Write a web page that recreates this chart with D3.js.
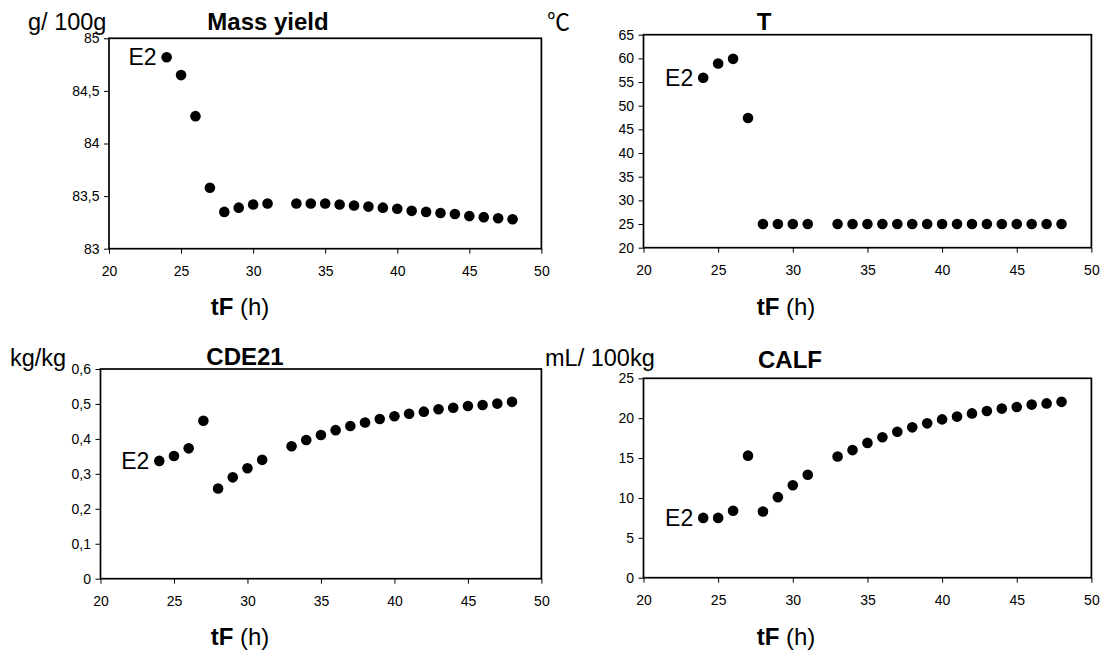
<!DOCTYPE html>
<html>
<head>
<meta charset="utf-8">
<script src="https://cdn.jsdelivr.net/npm/d3@7"></script>
<style>
  body { margin: 0; background: #fff; }
  svg text { font-family: "Liberation Sans", Arial, sans-serif; fill: #000; }
</style>
</head>
<body>
<div id="chart"></div>
<script>
// 發酵時間 tF (h)，32 h 沒有資料
const tF = [24, 25, 26, 27, 28, 29, 30, 31, 33, 34, 35, 36, 37, 38, 39, 40, 41, 42, 43, 44, 45, 46, 47, 48];

// 四個面板的數值
const massYield = [84.82, 84.65, 84.26, 83.58, 83.35, 83.39, 83.42, 83.43, 83.43, 83.43, 83.43, 83.42,
  83.41, 83.40, 83.39, 83.38, 83.36, 83.35, 83.34, 83.33, 83.31, 83.30, 83.29, 83.28];
const temperature = [55.9, 58.9, 59.9, 47.4, 25, 25, 25, 25, 25, 25, 25, 25,
  25, 25, 25, 25, 25, 25, 25, 25, 25, 25, 25, 25];
const cde21 = [0.337, 0.351, 0.373, 0.452, 0.258, 0.290, 0.316, 0.340, 0.379, 0.397, 0.411, 0.425,
  0.437, 0.447, 0.457, 0.465, 0.472, 0.478, 0.485, 0.489, 0.494, 0.497, 0.501, 0.506];
const calf = [7.5, 7.5, 8.4, 15.3, 8.3, 10.1, 11.6, 12.9, 15.2, 16.0, 16.9, 17.6,
  18.3, 18.85, 19.35, 19.85, 20.2, 20.6, 20.9, 21.2, 21.4, 21.7, 21.85, 22.05];

// 刻度
const xTicks = [20, 25, 30, 35, 40, 45, 50];
const massTicks = [83, 83.5, 84, 84.5, 85];
const tempTicks = [20, 25, 30, 35, 40, 45, 50, 55, 60, 65];
const cdeTicks = [0, 0.1, 0.2, 0.3, 0.4, 0.5, 0.6];
const calfTicks = [0, 5, 10, 15, 20, 25];

const titles = ["Mass yield", "T", "CDE21", "CALF"];
const units = ["g/ 100g", "℃", "kg/kg", "mL/ 100kg"];
const seriesLabel = "E2";

const width = 1103, height = 656;
const fmt = d => String(d).replace(".", ",");   // 小數點用逗號

const svg = d3.select("#chart").append("svg")
  .attr("width", width)
  .attr("height", height);

// 每個面板的位置 (box = 左, 上, 右, 下)
const panels = [
  { values: massYield, ticks: massTicks, box: [109, 38.3, 541.4, 248.7],
    title: [268, 30], unit: [28, 30], xlab: [240, 315] },
  { values: temperature, ticks: tempTicks, box: [643.5, 34.7, 1091.4, 247.7],
    title: [764, 30], unit: [547, 30], xlab: [786, 315] },
  { values: cde21, ticks: cdeTicks, box: [100.5, 369, 541.4, 578.7],
    title: [245, 365], unit: [10, 366], xlab: [240, 645] },
  { values: calf, ticks: calfTicks, box: [643.5, 378.3, 1091.4, 577.7],
    title: [790, 368], unit: [545, 366], xlab: [786, 645] }
];

panels.forEach((p, i) => drawPanel(p, i));

function drawPanel(p, i) {
  const [x0, y0, x1, y1] = p.box;

  const x = d3.scaleLinear().domain([20, 50]).range([x0, x1]);
  const y = d3.scaleLinear()
    .domain([p.ticks[0], p.ticks[p.ticks.length - 1]])
    .range([y1, y0]);

  const g = svg.append("g");

  // 座標軸
  g.append("g")
    .attr("transform", `translate(0,${y1})`)
    .call(d3.axisBottom(x).tickValues(xTicks).tickSize(5).tickPadding(12).tickFormat(fmt))
    .call(a => a.select(".domain").remove())
    .call(a => a.selectAll("text").attr("font-size", 14))
    .call(a => a.selectAll("line").attr("stroke", "#000"));

  g.append("g")
    .attr("transform", `translate(${x0},0)`)
    .call(d3.axisLeft(y).tickValues(p.ticks).tickSize(5).tickPadding(4.5).tickFormat(fmt))
    .call(a => a.select(".domain").remove())
    .call(a => a.selectAll("text").attr("font-size", 14))
    .call(a => a.selectAll("line").attr("stroke", "#000"));

  // 外框
  g.append("rect")
    .attr("x", x0)
    .attr("y", y0)
    .attr("width", x1 - x0)
    .attr("height", y1 - y0)
    .attr("fill", "none")
    .attr("stroke", "#000")
    .attr("stroke-width", 1.7);

  // 資料點
  g.append("g")
    .selectAll("circle")
    .data(tF)
    .join("circle")
    .attr("cx", d => x(d))
    .attr("cy", (d, j) => y(p.values[j]))
    .attr("r", 5.3)
    .attr("fill", "#000");

  // E2 標籤放在第一個點左邊
  g.append("text")
    .attr("x", x(tF[0]) - 10)
    .attr("y", y(p.values[0]))
    .attr("dy", "0.35em")
    .attr("text-anchor", "end")
    .attr("font-size", 23)
    .text(seriesLabel);

  // 標題
  g.append("text")
    .attr("x", p.title[0])
    .attr("y", p.title[1])
    .attr("text-anchor", "middle")
    .attr("font-size", 24)
    .attr("font-weight", "bold")
    .text(titles[i]);

  // 單位
  g.append("text")
    .attr("x", p.unit[0])
    .attr("y", p.unit[1])
    .attr("font-size", units[i] === "℃" ? 23 : 23.5)
    .style("font-family", units[i] === "℃" ? '"Noto Sans CJK SC", "DejaVu Sans", sans-serif' : null)
    .text(units[i]);

  // x 軸標題 tF (h)
  const xl = g.append("text")
    .attr("x", p.xlab[0])
    .attr("y", p.xlab[1])
    .attr("text-anchor", "middle")
    .attr("font-size", 24);
  xl.append("tspan").attr("font-weight", "bold").text("tF");
  xl.append("tspan").text(" (h)");
}
</script>
</body>
</html>
